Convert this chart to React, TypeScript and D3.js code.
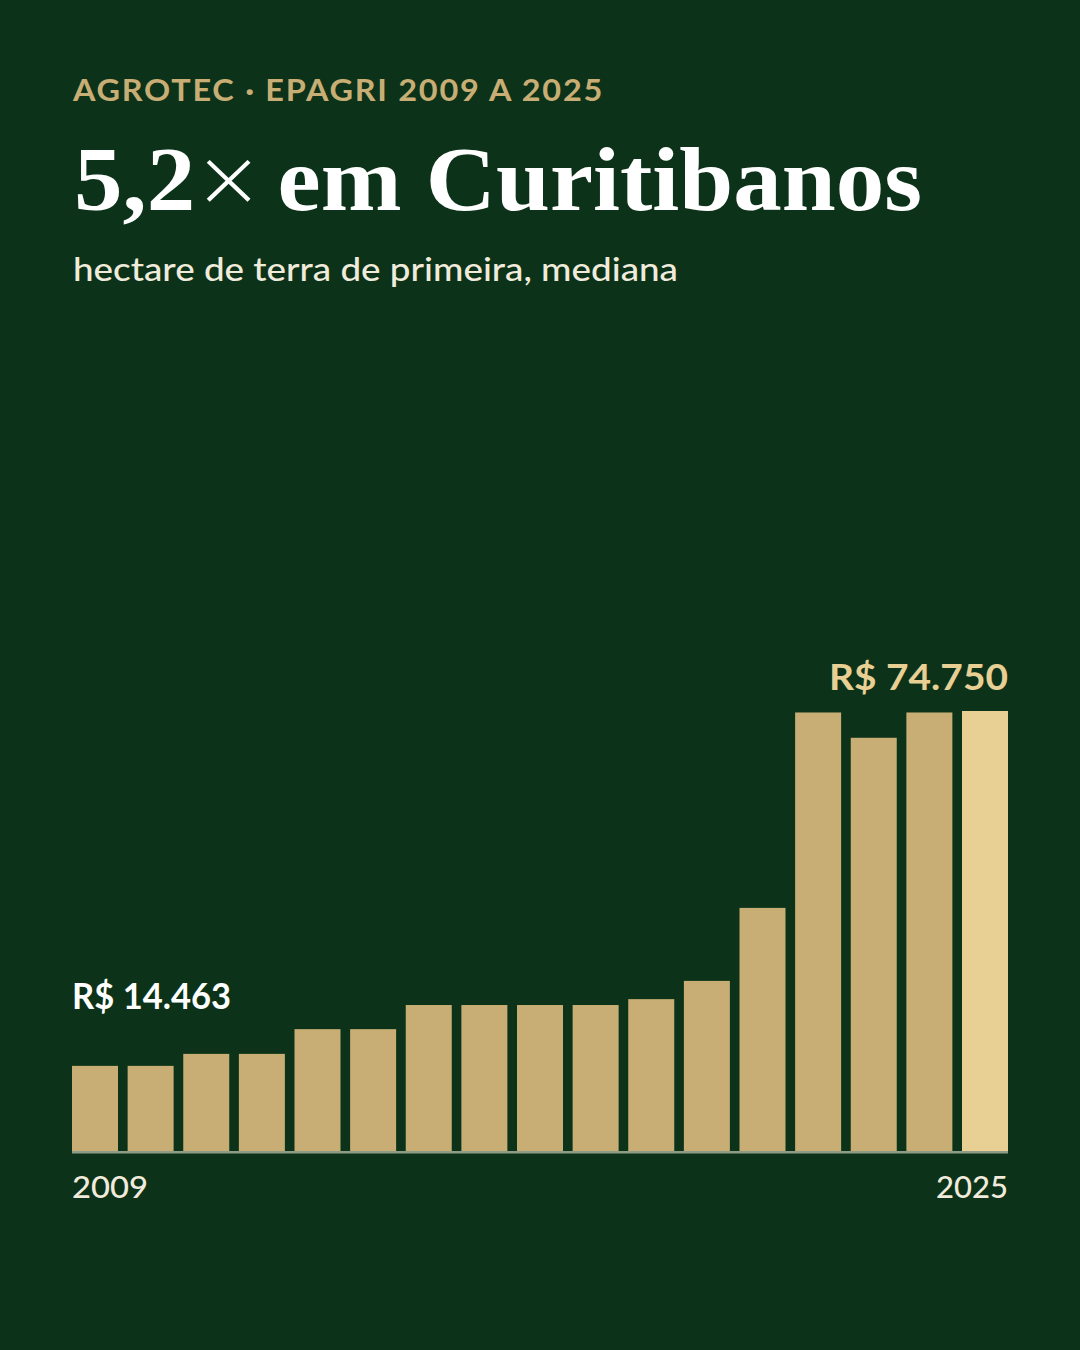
import React from 'react';
import * as d3 from 'd3';

const years = [2009, 2010, 2011, 2012, 2013, 2014, 2015, 2016, 2017, 2018, 2019, 2020, 2021, 2022, 2023, 2024, 2025];
const values = [14463, 14463, 16500, 16500, 20700, 20700, 24800, 24800, 24800, 24800, 25800, 28900, 41300, 74500, 70200, 74500, 74750];

const eyebrow = 'AGROTEC · EPAGRI 2009 A 2025';
const titleLead = '5,2';
const titleTimes = '×';
const titleRest = 'em Curitibanos';
const subtitle = 'hectare de terra de primeira, mediana';
const firstLabel = 'R$ 14.463';
const lastLabel = 'R$ 74.750';

const W = 1080;
const H = 1350;
const BG = '#0c3319';
const GOLD = '#c8ae74';
const GOLD_LIGHT = '#e8cf94';
const CREAM = '#f1ebdc';
const SANS = 'Lato, "Noto Sans", sans-serif';
const SERIF = '"Liberation Serif", "DejaVu Serif", serif';

export default function App() {
  const margin = { left: 72, right: 72, bottom: 199 };
  const baseline = H - margin.bottom; // 1151

  const x = d3.scaleBand<number>()
    .domain(years)
    .range([margin.left, W - margin.right])
    .paddingInner(0.173)
    .paddingOuter(0);

  const y = d3.scaleLinear()
    .domain([0, 74750])
    .range([baseline, 711]);

  const last = years.length - 1;
  const rightEdge = x(years[last])! + x.bandwidth();

  return (
    <div style={{ position: 'absolute', left: 0, top: 0 }}>
      <svg width={W} height={H} style={{ display: 'block' }}>
        <rect width={W} height={H} fill={BG} />

        <text x={73} y={101} fill={GOLD} fontFamily={SANS} fontWeight={700} fontSize={30} letterSpacing={1.6}
          textLength={531} lengthAdjust="spacingAndGlyphs">
          {eyebrow}
        </text>
        <text x={74} y={210} fill="#ffffff" fontFamily={SERIF} fontWeight={700} fontSize={92} textLength={848} lengthAdjust="spacingAndGlyphs">
          {titleLead}
          <tspan fontWeight={200} fontFamily='"DejaVu Sans", sans-serif' fontSize={80} dx={-2} dy={-4}>{titleTimes}</tspan>
          <tspan dx={13} dy={4}>{titleRest}</tspan>
        </text>
        <text x={73} y={281} fill={CREAM} fontFamily={SANS} fontWeight={500} fontSize={32}
          textLength={605} lengthAdjust="spacingAndGlyphs">
          {subtitle}
        </text>

        {values.map((v, i) => (
          <rect
            key={years[i]}
            x={x(years[i])!}
            y={y(v)}
            width={x.bandwidth()}
            height={baseline - y(v)}
            fill={i === last ? GOLD_LIGHT : GOLD}
          />
        ))}

        <line x1={margin.left} x2={W - margin.right} y1={baseline + 1.2} y2={baseline + 1.2} stroke="#8d9c84" strokeWidth={2.5} />

        <text x={x(years[0])!} y={1009} fill="#ffffff" fontFamily={SANS} fontWeight={700} fontSize={36}
          textLength={159} lengthAdjust="spacingAndGlyphs">
          {firstLabel}
        </text>
        <text x={rightEdge - 179} y={690} fill={GOLD_LIGHT} fontFamily={SANS} fontWeight={700} fontSize={37}
          textLength={179} lengthAdjust="spacingAndGlyphs">
          {lastLabel}
        </text>

        <text x={x(years[0])!} y={1198} fill={CREAM} fontFamily={SANS} fontWeight={500} fontSize={31}
          textLength={76} lengthAdjust="spacingAndGlyphs">
          {String(years[0])}
        </text>
        <text x={rightEdge - 72} y={1198} fill={CREAM} fontFamily={SANS} fontWeight={500} fontSize={31}
          textLength={72} lengthAdjust="spacingAndGlyphs">
          {String(years[last])}
        </text>
      </svg>
    </div>
  );
}
